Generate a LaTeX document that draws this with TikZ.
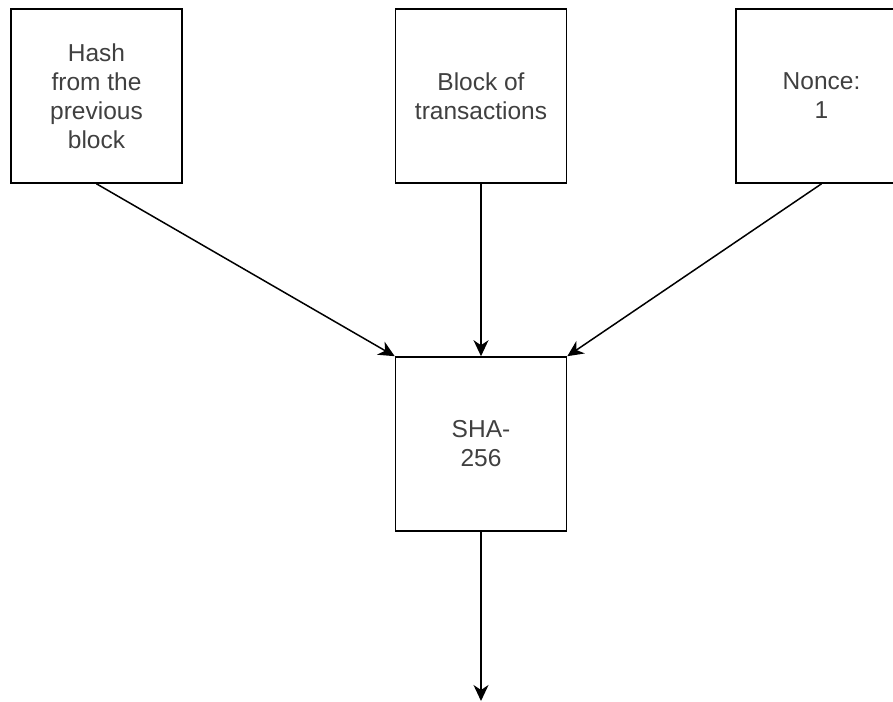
\documentclass[tikz,border=0pt]{standalone}
\usepackage{fontspec}
\setmainfont{Liberation Sans}
\usetikzlibrary{arrows.meta}

\begin{document}
\begin{tikzpicture}[x=1pt, y=-1pt,
box/.style={draw, line width=1.6pt, rectangle, align=center, minimum width=171pt, minimum height=174pt,
  inner sep=0pt, text=black!75, font=\fontsize{24.5}{29}\selectfont},
link/.style={-{Stealth[length=16pt, width=15pt, inset=5pt]}, line width=1.5pt}]

\useasboundingbox (0,0) rectangle (893,701);
\clip (0,0) rectangle (893,701);

\node[box] (hash) at (96.5,96) {Hash\\from the\\previous\\block};
\node[box] (txs) at (481,96) {Block of\\transactions};
\node[box] (nonce) at (821.5,96) {Nonce:\\1};
\node[box] (sha) at (481,444) {SHA-\\256};
\coordinate (out) at (481,701);

\draw[link] (hash.south) -- (sha.north west);
\draw[link] (txs) -- (sha);
\draw[link] (nonce.south) -- (sha.north east);
\draw[link] (sha) -- (out);

\end{tikzpicture}
\end{document}
